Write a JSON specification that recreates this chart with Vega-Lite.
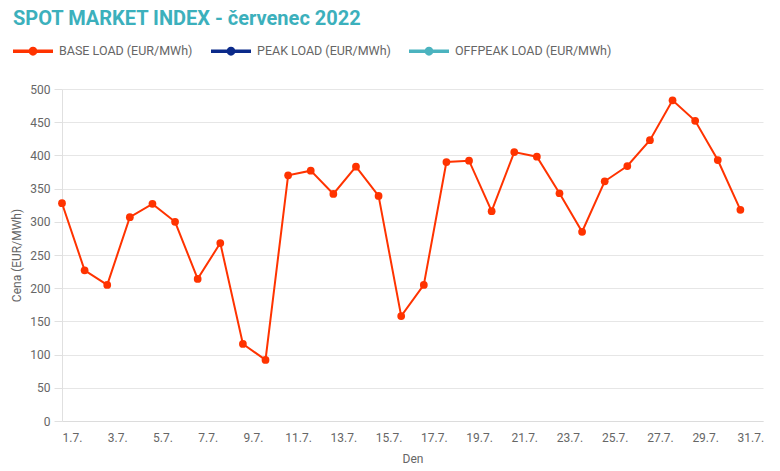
{
  "$schema": "https://vega.github.io/schema/vega-lite/v6.json",
  "width": 701,
  "height": 332,
  "autosize": {"type": "none"},
  "padding": {"left": 62, "top": 89, "right": 17, "bottom": 50},
  "background": "white",
  "title": {
    "text": "SPOT MARKET INDEX - červenec 2022",
    "anchor": "start",
    "frame": "group",
    "dx": -49,
    "offset": 2,
    "font": "Roboto",
    "fontSize": 20,
    "fontWeight": "bold",
    "color": "#3cb0bc"
  },
  "config": {
    "view": {"stroke": null},
    "font": "Roboto",
    "axis": {
      "labelFont": "Roboto",
      "labelColor": "#666666",
      "labelFontSize": 12,
      "titleFont": "Roboto",
      "titleColor": "#666666",
      "titleFontSize": 12,
      "titleFontWeight": "normal",
      "domainColor": "#e0e0e0",
      "tickColor": "#e0e0e0",
      "gridColor": "#e6e6e6"
    }
  },
  "data": {
    "values": [
      {"day": 1, "value": 328, "series": "BASE LOAD (EUR/MWh)"},
      {"day": 2, "value": 227, "series": "BASE LOAD (EUR/MWh)"},
      {"day": 3, "value": 205, "series": "BASE LOAD (EUR/MWh)"},
      {"day": 4, "value": 307, "series": "BASE LOAD (EUR/MWh)"},
      {"day": 5, "value": 327, "series": "BASE LOAD (EUR/MWh)"},
      {"day": 6, "value": 300, "series": "BASE LOAD (EUR/MWh)"},
      {"day": 7, "value": 214, "series": "BASE LOAD (EUR/MWh)"},
      {"day": 8, "value": 268, "series": "BASE LOAD (EUR/MWh)"},
      {"day": 9, "value": 116, "series": "BASE LOAD (EUR/MWh)"},
      {"day": 10, "value": 92, "series": "BASE LOAD (EUR/MWh)"},
      {"day": 11, "value": 370, "series": "BASE LOAD (EUR/MWh)"},
      {"day": 12, "value": 377, "series": "BASE LOAD (EUR/MWh)"},
      {"day": 13, "value": 342, "series": "BASE LOAD (EUR/MWh)"},
      {"day": 14, "value": 383, "series": "BASE LOAD (EUR/MWh)"},
      {"day": 15, "value": 339, "series": "BASE LOAD (EUR/MWh)"},
      {"day": 16, "value": 158, "series": "BASE LOAD (EUR/MWh)"},
      {"day": 17, "value": 205, "series": "BASE LOAD (EUR/MWh)"},
      {"day": 18, "value": 390, "series": "BASE LOAD (EUR/MWh)"},
      {"day": 19, "value": 392, "series": "BASE LOAD (EUR/MWh)"},
      {"day": 20, "value": 316, "series": "BASE LOAD (EUR/MWh)"},
      {"day": 21, "value": 405, "series": "BASE LOAD (EUR/MWh)"},
      {"day": 22, "value": 398, "series": "BASE LOAD (EUR/MWh)"},
      {"day": 23, "value": 343, "series": "BASE LOAD (EUR/MWh)"},
      {"day": 24, "value": 285, "series": "BASE LOAD (EUR/MWh)"},
      {"day": 25, "value": 361, "series": "BASE LOAD (EUR/MWh)"},
      {"day": 26, "value": 384, "series": "BASE LOAD (EUR/MWh)"},
      {"day": 27, "value": 423, "series": "BASE LOAD (EUR/MWh)"},
      {"day": 28, "value": 483, "series": "BASE LOAD (EUR/MWh)"},
      {"day": 29, "value": 452, "series": "BASE LOAD (EUR/MWh)"},
      {"day": 30, "value": 393, "series": "BASE LOAD (EUR/MWh)"},
      {"day": 31, "value": 318, "series": "BASE LOAD (EUR/MWh)"}
    ]
  },
  "mark": {"type": "line", "strokeWidth": 2, "point": {"filled": true, "size": 60, "opacity": 1}},
  "encoding": {
    "x": {
      "field": "day",
      "type": "quantitative",
      "scale": {"domain": [1, 32], "nice": false, "zero": false},
      "axis": {
        "title": "Den",
        "values": [1, 3, 5, 7, 9, 11, 13, 15, 17, 19, 21, 23, 25, 27, 29, 31],
        "labelExpr": "datum.value + '.7.'",
        "labelFlush": false,
        "labelOverlap": false,
        "grid": false,
        "ticks": false,
        "labelOffset": 10,
        "labelPadding": 11,
        "titlePadding": 10,
        "domainColor": "#dcdcdc"
      }
    },
    "y": {
      "field": "value",
      "type": "quantitative",
      "scale": {"domain": [0, 500], "nice": false},
      "axis": {
        "title": "Cena (EUR/MWh)",
        "values": [0, 50, 100, 150, 200, 250, 300, 350, 400, 450, 500],
        "tickSize": 8,
        "labelPadding": 4,
        "titlePadding": 6,
        "domain": true
      }
    },
    "color": {
      "field": "series",
      "type": "nominal",
      "scale": {
        "domain": ["BASE LOAD (EUR/MWh)", "PEAK LOAD (EUR/MWh)", "OFFPEAK LOAD (EUR/MWh)"],
        "range": ["#ff3300", "#0b2a8a", "#4bb3bf"]
      },
      "legend": {
        "title": null,
        "orient": "none",
        "legendX": -49,
        "legendY": -58,
        "direction": "horizontal",
        "symbolType": "M-1,-0.09H1V0.09H-1Z M0,-0.22A0.22,0.22 0 1,1 0,0.22A0.22,0.22 0 1,1 0,-0.22Z",
        "symbolSize": 1600,
        "symbolStrokeWidth": 0,
        "symbolOpacity": 1,
        "labelFont": "Roboto",
        "labelFontSize": 12.5,
        "labelColor": "#666666",
        "labelOffset": 6,
        "columnPadding": 18,
        "symbolOffset": 0
      }
    }
  }
}
